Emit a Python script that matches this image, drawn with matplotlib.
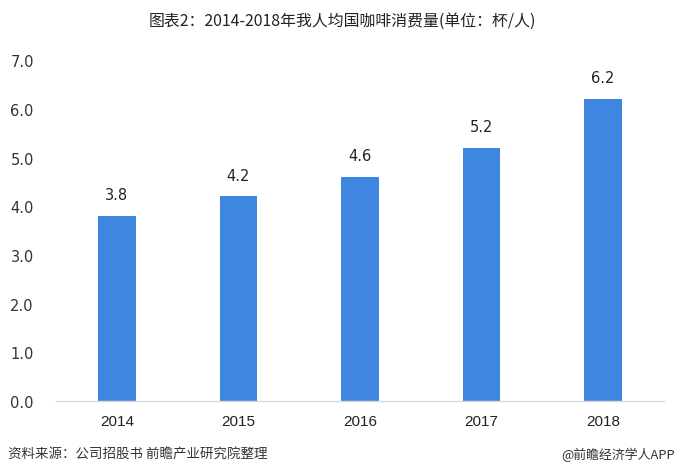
import matplotlib
matplotlib.use("Agg")
import matplotlib.pyplot as plt

plt.rcParams['font.family'] = ['Noto Sans CJK SC', 'DejaVu Sans']

# 数据
years = ["2014", "2015", "2016", "2017", "2018"]
cups = [3.8, 4.2, 4.6, 5.2, 6.2]
yticks = [0, 1, 2, 3, 4, 5, 6, 7]

fig = plt.figure(figsize=(6.8, 4.77), dpi=100)
ax = fig.add_axes([0.0824, 0.157, 0.894, 0.715])

bars = ax.bar(range(len(years)), cups, width=0.31, color="#3F86E0")

for i, v in enumerate(cups):
    ax.annotate("{:.1f}".format(v), (i, v), xytext=(0, 10), textcoords="offset points",
                ha="center", va="bottom", fontsize=10.5, color="#222222",
                family=["DejaVu Sans"])

ax.set_xlim(-0.5, len(years) - 0.5)
ax.set_ylim(0, 7)
ax.set_xticks(range(len(years)))
ax.set_xticklabels(years, family=["Liberation Sans"], fontsize=11, color="#222222")
ax.set_yticks(yticks)
ax.set_yticklabels(["{:.1f}".format(t) for t in yticks], family=["DejaVu Sans"],
                   fontsize=10.5, color="#333333")
ax.tick_params(axis="both", length=0)
ax.tick_params(axis="y", pad=16)
ax.tick_params(axis="x", pad=9)

for s in ["top", "right", "left"]:
    ax.spines[s].set_visible(False)
ax.spines["bottom"].set_color("#D9D9D9")
ax.spines["bottom"].set_linewidth(1)

fig.text(0.504, 0.955, "图表2：2014-2018年我人均国咖啡消费量(单位：杯/人)",
         ha="center", va="center", fontsize=11.4, color="#222222")
fig.text(0.012, 0.046, "资料来源：公司招股书 前瞻产业研究院整理",
         ha="left", va="center", fontsize=9.7, color="#333333", style="italic")
fig.text(0.993, 0.046, "@前瞻经济学人APP",
         ha="right", va="center", fontsize=9.3, color="#333333")

fig.savefig("out.png", dpi=100)
